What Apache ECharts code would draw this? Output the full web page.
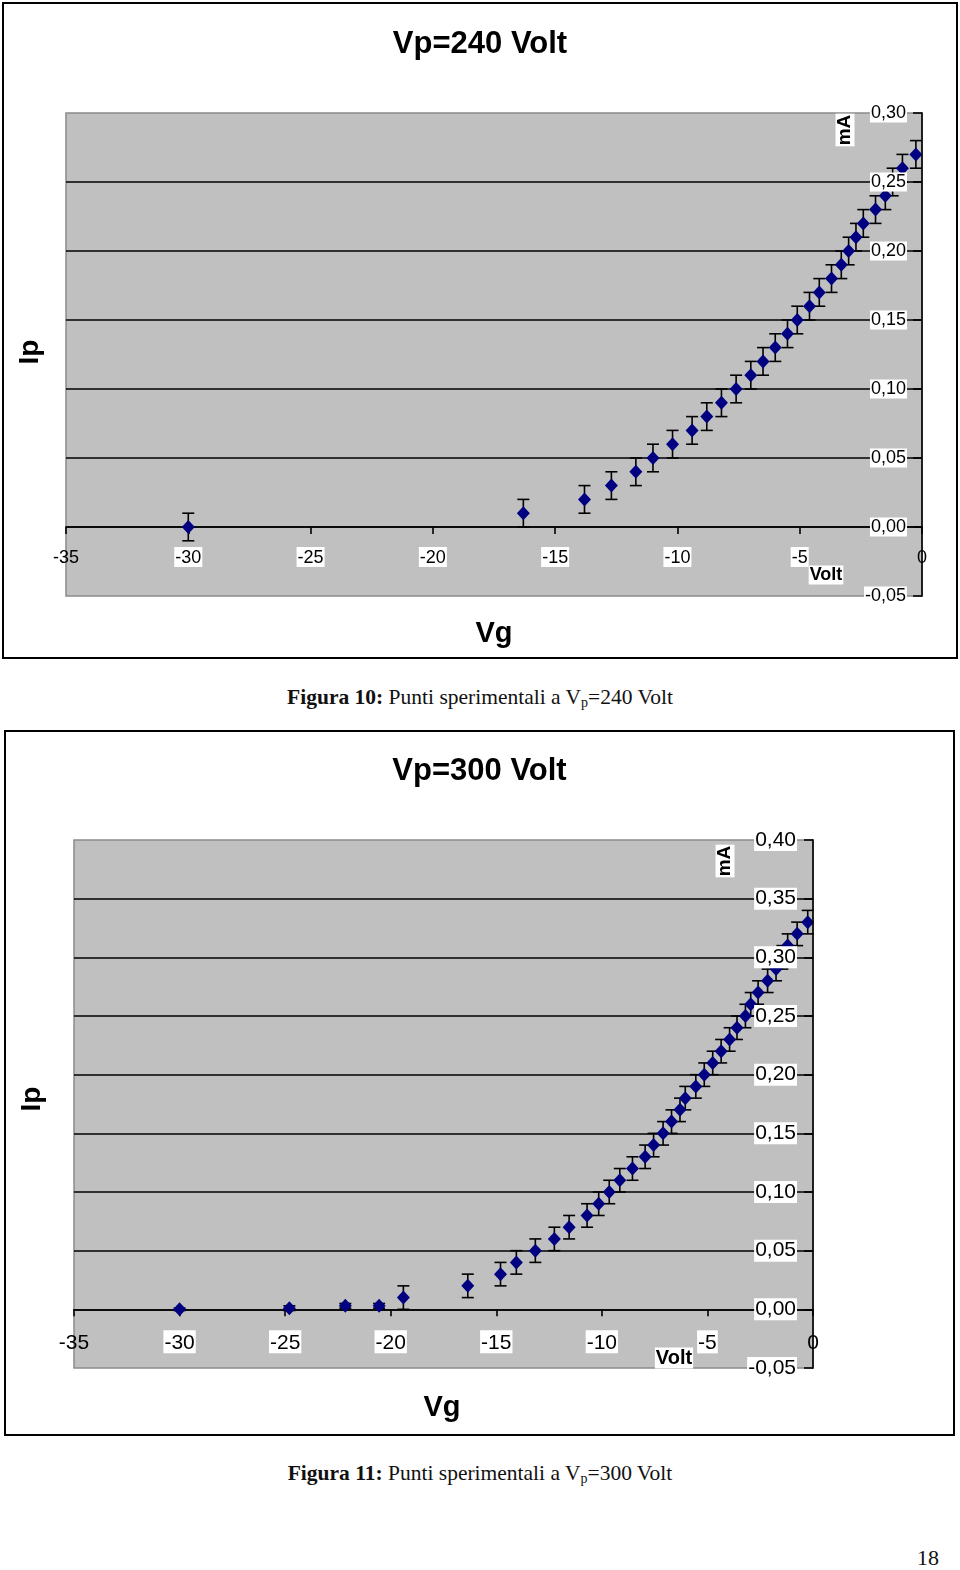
<!DOCTYPE html>
<html>
<head>
<meta charset="utf-8">
<script src="https://cdn.jsdelivr.net/npm/echarts@6/dist/echarts.min.js"></script>
<style>
body { margin: 0; background: #fff; }
.page { position: relative; width: 960px; height: 1570px; overflow: hidden; }
.box { position: absolute; border: 2px solid #000; }
#c1 { left: 2px; top: 2px; width: 952px; height: 653px; }
#c2 { left: 4px; top: 730px; width: 947px; height: 702px; }
.cap {
	position: absolute; left: 0; width: 960px; text-align: center;
	font-family: "Liberation Serif", "DejaVu Serif", serif; font-size: 21.5px; line-height: 24px; color: #111;
}
.cap sub { font-size: 14px; vertical-align: -3px; line-height: 0; }
#cap1 { top: 685px; }
#cap2 { top: 1461px; }
#pg { position: absolute; left: 917px; top: 1545px; font-family: "Liberation Serif", serif; font-size: 22px; color: #111; }
</style>
</head>
<body>
<div class="page">
	<div id="c1" class="box"></div>
	<div class="cap" id="cap1"><b>Figura 10:</b> Punti sperimentali a V<sub>p</sub>=240 Volt</div>
	<div id="c2" class="box"></div>
	<div class="cap" id="cap2"><b>Figura 11:</b> Punti sperimentali a V<sub>p</sub>=300 Volt</div>
	<div id="pg">18</div>
</div>
<script>
// Vp = 240 V  (Vg in Volt, Ip in mA, errore in mA)
var vg240 = [-30, -16.3, -13.8, -12.7, -11.7, -11.0, -10.2, -9.4, -8.8, -8.2, -7.6, -7.0, -6.5, -6.0,
	-5.5, -5.1, -4.6, -4.2, -3.7, -3.3, -3.0, -2.7, -2.4, -1.9, -1.5, -1.2, -0.8, -0.25];
var ip240 = [0, 0.01, 0.02, 0.03, 0.04, 0.05, 0.06, 0.07, 0.08, 0.09, 0.10, 0.11, 0.12, 0.13,
	0.14, 0.15, 0.16, 0.17, 0.18, 0.19, 0.20, 0.21, 0.22, 0.23, 0.24, 0.25, 0.26, 0.27];
var err240 = [0.01, 0.01, 0.01, 0.01, 0.01, 0.01, 0.01, 0.01, 0.01, 0.01, 0.01, 0.01, 0.01, 0.01,
	0.01, 0.01, 0.01, 0.01, 0.01, 0.01, 0.01, 0.01, 0.01, 0.01, 0.01, 0.01, 0.01, 0.01];

// Vp = 300 V
var vg300 = [-30, -24.8, -22.15, -20.55, -19.4, -16.35, -14.8, -14.05, -13.15, -12.25, -11.55, -10.7,
	-10.15, -9.65, -9.15, -8.55, -7.95, -7.55, -7.1, -6.7, -6.3, -6.05, -5.55, -5.15, -4.75, -4.35,
	-3.95, -3.6, -3.2, -2.95, -2.6, -2.15, -1.75, -1.45, -1.2, -0.75, -0.25];
var ip300 = [0, 0.001, 0.003, 0.003, 0.01, 0.02, 0.03, 0.04, 0.05, 0.06, 0.07, 0.08,
	0.09, 0.10, 0.11, 0.12, 0.13, 0.14, 0.15, 0.16, 0.17, 0.18, 0.19, 0.20, 0.21, 0.22,
	0.23, 0.24, 0.25, 0.26, 0.27, 0.28, 0.29, 0.30, 0.31, 0.32, 0.33];
var err300 = [0.001, 0.002, 0.002, 0.002, 0.01, 0.01, 0.01, 0.01, 0.01, 0.01, 0.01, 0.01,
	0.01, 0.01, 0.01, 0.01, 0.01, 0.01, 0.01, 0.01, 0.01, 0.01, 0.01, 0.01, 0.01, 0.01,
	0.01, 0.01, 0.01, 0.01, 0.01, 0.01, 0.01, 0.01, 0.01, 0.01, 0.01];

var FONT = '"Liberation Sans", Arial, sans-serif';

function errBar(params, api) {
	var x = api.value(0), y = api.value(1), e = api.value(2);
	var top = api.coord([x, y + e]);
	var bot = api.coord([x, y - e]);
	var w = 6;
	var st = { stroke: '#000', lineWidth: 1.6 };
	return {
		type: 'group',
		children: [
			{ type: 'line', shape: { x1: top[0], y1: top[1], x2: bot[0], y2: bot[1] }, style: st },
			{ type: 'line', shape: { x1: top[0] - w, y1: top[1], x2: top[0] + w, y2: top[1] }, style: st },
			{ type: 'line', shape: { x1: bot[0] - w, y1: bot[1], x2: bot[0] + w, y2: bot[1] }, style: st }
		]
	};
}

function makeOption(c) {
	var pts = [], bars = [];
	for (var i = 0; i < c.vg.length; i++) {
		pts.push([c.vg[i], c.ip[i]]);
		bars.push([c.vg[i], c.ip[i], c.err[i]]);
	}
	// x axis sits on Ip = 0: one 0.05 step above the bottom of the grid
	var plotH = c.h - c.grid[2] - c.grid[3];
	var zeroOff = plotH * 0.05 / (c.ymax + 0.05);
	var yBase = { type: 'value', min: -0.05, max: c.ymax, interval: 0.05, position: 'right' };
	return {
		animation: false,
		title: {
			text: c.title, left: 'center', top: c.titleTop,
			textStyle: { fontFamily: FONT, fontSize: 31, fontWeight: 'bold', color: '#000' }
		},
		grid: {
			left: c.grid[0], right: c.grid[1], top: c.grid[2], bottom: c.grid[3],
			show: true, backgroundColor: '#c0c0c0', borderColor: '#8a8a8a', borderWidth: 1.5
		},
		xAxis: {
			type: 'value', min: -35, max: 0, interval: 5,
			offset: -zeroOff,
			axisLine: { onZero: false, lineStyle: { color: '#000', width: 1.6 } },
			axisTick: { length: 7, lineStyle: { color: '#000', width: 1.6 } },
			splitLine: { show: false },
			axisLabel: {
				margin: c.xMargin, showMinLabel: true, showMaxLabel: true,
				formatter: function (v) {
					return (v === -35 || v === 0) ? '{n|' + v + '}' : '{b|' + v + '}';
				},
				rich: {
					b: { fontFamily: FONT, fontSize: c.fs, color: '#000', backgroundColor: '#fff', padding: [2, 1, 0, 1] },
					n: { fontFamily: FONT, fontSize: c.fs, color: '#000', padding: [2, 1, 0, 1] }
				}
			}
		},
		yAxis: [
			Object.assign({}, yBase, {
				axisLine: { show: false }, axisTick: { show: false }, axisLabel: { show: false },
				splitLine: { show: true, showMinLine: false, showMaxLine: false, lineStyle: { color: '#000', width: 1.6 } }
			}),
			Object.assign({}, yBase, {
				z: 10,
				axisLine: { show: true, onZero: false, lineStyle: { color: '#000', width: 1.6 } },
				axisTick: { show: true, inside: true, length: 9, lineStyle: { color: '#000', width: 1.6 } },
				splitLine: { show: false },
				axisLabel: {
					inside: true, margin: c.yMargin, showMinLabel: true, showMaxLabel: true,
					fontFamily: FONT, fontSize: c.fsY, color: '#000',
					backgroundColor: '#fff', padding: [1, 1, 0, 1],
					formatter: function (v) { return v.toFixed(2).replace('.', ','); }
				}
			})
		],
		series: [
			{
				type: 'custom', renderItem: errBar, data: bars, z: 2,
				encode: { x: 0, y: 1 }
			},
			{
				type: 'scatter', data: pts, z: 3,
				symbol: 'diamond', symbolSize: [13, 14],
				itemStyle: { color: '#000080', opacity: 1 }
			}
		],
		graphic: [
			{
				type: 'text', x: c.mA[0], y: c.mA[1], rotation: Math.PI / 2, z: 20,
				style: { text: 'mA', font: 'bold 19px ' + FONT, fill: '#000', align: 'center', verticalAlign: 'middle', backgroundColor: '#fff', padding: [0, 1] }
			},
			{
				type: 'text', x: c.volt[0], y: c.volt[1], z: 20,
				style: { text: 'Volt', font: 'bold ' + c.fsVolt + 'px ' + FONT, fill: '#000', align: 'center', verticalAlign: 'middle', backgroundColor: '#fff', padding: [1, 1, 0, 1] }
			},
			{
				type: 'text', x: c.ipPos[0], y: c.ipPos[1], rotation: Math.PI / 2,
				style: { text: 'Ip', font: 'bold 28px ' + FONT, fill: '#000', align: 'center', verticalAlign: 'middle' }
			},
			{
				type: 'text', x: c.vgPos[0], y: c.vgPos[1],
				style: { text: 'Vg', font: 'bold 29px ' + FONT, fill: '#000', align: 'center', verticalAlign: 'middle' }
			}
		]
	};
}

var chart1 = echarts.init(document.getElementById('c1'));
chart1.setOption(makeOption({
	title: 'Vp=240 Volt', titleTop: 20, h: 653,
	vg: vg240, ip: ip240, err: err240, ymax: 0.30,
	grid: [62, 34, 109, 61],
	fs: 18, fsY: 18, xMargin: 20, yMargin: 15, fsVolt: 18,
	mA: [841, 126], volt: [822, 571], ipPos: [26, 348], vgPos: [490, 630]
}));

var chart2 = echarts.init(document.getElementById('c2'));
chart2.setOption(makeOption({
	title: 'Vp=300 Volt', titleTop: 19, h: 702,
	vg: vg300, ip: ip300, err: err300, ymax: 0.40,
	grid: [68, 140, 108, 66],
	fs: 21, fsY: 21, xMargin: 21, yMargin: 16, fsVolt: 20,
	mA: [719, 129], volt: [668, 626], ipPos: [26, 367], vgPos: [436, 676]
}));
</script>
</body>
</html>
